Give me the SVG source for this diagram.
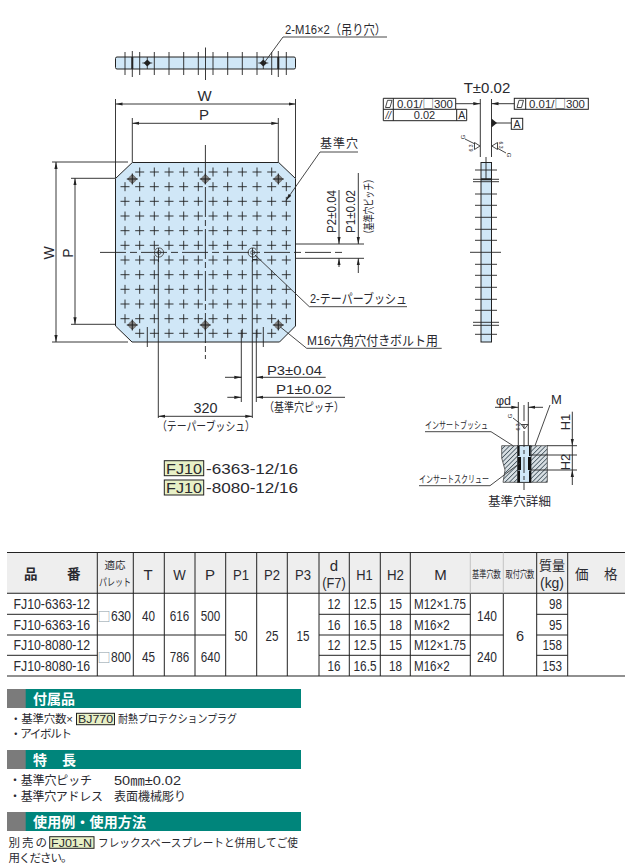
<svg xmlns="http://www.w3.org/2000/svg" width="630" height="868" viewBox="0 0 630 868">
<style>
text{font-family:"Liberation Sans","Noto Sans CJK JP",sans-serif;fill:#2a2a30;font-size:13px}
.jp{font-size:11.5px}
.m{text-anchor:middle}
.e{text-anchor:end}
.h{font-size:15px}
.s{font-size:12px}
.d{font-size:14.5px}
.sq{font-family:"Noto Sans CJK JP",sans-serif;fill:#8a9aa8;font-size:13px}
.q{font-family:"Noto Sans CJK JP",sans-serif}
.w{fill:#fff;font-weight:700;font-size:14px}
.b{font-weight:700}
.ln{fill:none;stroke:#222;stroke-width:.9}
.th{fill:none;stroke:#222;stroke-width:1.1}
.tb{fill:none;stroke:#222;stroke-width:1}
.pl{fill:#d0e7f7;stroke:#222;stroke-width:1}
.gr{fill:none;stroke:#222;stroke-width:.9;stroke-dasharray:9 5.667}
.tag{fill:#e8f0c6;stroke:#222;stroke-width:1}
.lead{fill:none;stroke:#333;stroke-width:.9}
.r{font-size:5px}
</style>
<defs>
<marker id="a" markerUnits="userSpaceOnUse" markerWidth="7" markerHeight="4" refX="7" refY="2" orient="auto-start-reverse"><path d="M0 .4L7 2L0 3.6z" fill="#222"/></marker>
<g id="hole"><path d="M0-5L5 0L0 5L-5 0z" fill="#555"/><circle r="3.6" fill="#808080"/><path d="M-5.5 0H5.5M0-5.5V5.5" stroke="#222" stroke-width="1"/></g>
<g id="mini"><path d="M0-3.6L3.6 0L0 3.6L-3.6 0z" fill="#222"/><path d="M-5 0H5M0-6V6" stroke="#222" stroke-width=".8"/></g>
<g id="bush"><circle r="4.6" fill="#d0e7f7" stroke="#555" stroke-width="1"/><circle r="2" fill="none" stroke="#555" stroke-width=".8"/></g>
<pattern id="hatch" patternUnits="userSpaceOnUse" width="3.2" height="3.2" patternTransform="rotate(45)"><rect width="3.2" height="3.2" fill="#d8dfe3"/><path d="M0 0V3.2" stroke="#3a4a55" stroke-width="1.5"/></pattern>
</defs>

<g id="bar-view">
<rect class="pl" x="115.5" y="57" width="180" height="12" rx="1.5"/>
<path class="ln" d="M125 52V75M139.7 52V75M154.3 52V75M169 52V75M183.7 52V75M198.3 52V75M213 52V75M227.7 52V75M242.3 52V75M257 52V75M271.7 52V75M286.3 52V75M205.5 47.5V80"/>
<path class="ln" d="M132.3 51V77M278.3 51V77"/>
<path d="M132.3 57V69M278.3 57V69" fill="none" stroke="#222" stroke-width="2"/>
<use href="#mini" x="147.3" y="63"/>
<use href="#mini" x="263.3" y="63"/>
</g>

<g id="plate-view">
<path class="pl" d="M132.3 162.5H278.7L295.5 178.5V326L279.5 342H132L115.5 326V178.5z"/>
<path class="gr" d="M135.2 172H276.2M120.5 186.7H291M120.5 201.3H291M120.5 216H291M120.5 230.7H291M120.5 245.3H291M120.5 260H291M120.5 274.7H291M120.5 289.3H291M120.5 304H291M120.5 318.7H291M135.2 333.3H276.2"/>
<path class="gr" d="M125 182.2V323.2M139.7 167.5V338M154.3 167.5V338M169 167.5V338M183.7 167.5V338M198.3 167.5V338M213 167.5V338M227.7 167.5V338M242.3 167.5V338M257 167.5V338M271.7 167.5V338M286.3 182.2V323.2"/>
<use href="#hole" x="132.3" y="179"/>
<use href="#hole" x="205.3" y="179"/>
<use href="#hole" x="278.3" y="179"/>
<use href="#hole" x="132.3" y="325"/>
<use href="#hole" x="205.3" y="325"/>
<use href="#hole" x="278.3" y="325"/>
<use href="#bush" x="159" y="252.5"/>
<use href="#bush" x="252.7" y="252.5"/>
<path class="ln" d="M158.5 248V262M252.5 248V262M252.5 259.5H257"/>
</g>

<g id="side-view">
<rect x="481" y="162.5" width="10.5" height="179.5" fill="#d0e7f7" stroke="#222" stroke-width="1"/>
<path class="ln" d="M475 170H497M473 179.3H499M473 181.7H499M475 194H497M475 205.3H497M475 217.3H497M475 229.3H497M475 240.3H497M470 252.3H501M475 264.3H497M475 275.3H497M475 287.3H497M475 299.3H497M475 310.3H497M473 322.3H499M473 325.3H499M475 334.3H497M486 157V179"/>
<path d="M481 179.3H491.5" stroke="#222" stroke-width="2"/>
<path class="ln" d="M480.3 99V157M491.5 99V157"/>
<text x="487" y="93" class="m" style="font-size:15px">T±0.02</text>
<g id="tol-left">
<path class="tb" d="M383.3 98.3H455.7V109.3H466.7V120.7H383.3zM383.3 109.3H455.7M393.3 98.3V120.7M456.7 109.3V120.7"/>
<path class="lead" d="M385.5 107.5L387.5 100.3H392L390 107.5z"/>
<text x="397" y="108" textLength="56" lengthAdjust="spacingAndGlyphs" style="font-size:11px">0.01/<tspan class="q">□</tspan>300</text>
<text x="388.3" y="118.5" class="m" style="font-size:10px;font-style:italic">//</text>
<text x="424.5" y="119" class="m" style="font-size:11px">0.02</text>
<text x="461.7" y="119" class="m" style="font-size:10.5px">A</text>
</g>
<g id="tol-right">
<rect class="tb" x="514.3" y="98.3" width="74" height="11"/><path class="tb" d="M525.7 98.3V109.3"/>
<path class="lead" d="M517 107.5L519 100.3H523.5L521.5 107.5z"/>
<text x="529" y="108" textLength="56" lengthAdjust="spacingAndGlyphs" style="font-size:11px">0.01/<tspan class="q">□</tspan>300</text>
</g>
<g id="datum-a">
<rect class="tb" x="511.3" y="118.3" width="11.4" height="11"/>
<text x="517" y="128" class="m" style="font-size:10.5px">A</text>
<path class="ln" d="M491.5 123H511.3"/>
<path d="M491.5 118.5L497 123L491.5 127.5z" fill="#222"/>
</g>
<g id="rough-left">
<path class="lead" d="M465 139L475 144M480 146L474.5 142.5V149.5z"/>
<text transform="translate(465 137) rotate(-90)" class="r m" style="font-size:6px">G</text>
<text transform="translate(473 148) rotate(-90)" class="r m">6.3</text>
</g>
<g id="rough-right">
<path class="lead" d="M497 148L506 153M491.8 146L497.5 142.5V149.5z"/>
<text transform="translate(507 155) rotate(90)" class="r m" style="font-size:6px">G</text>
<text transform="translate(499 145) rotate(90)" class="r m">6.3</text>
</g>
</g>

<g id="connectors">
<path class="ln" d="M115.5 99V178M295.5 99V178M132.3 118V162M278.3 118V162"/>
<path class="ln" marker-start="url(#a)" marker-end="url(#a)" d="M115.5 104H295.5"/>
<path class="ln" marker-start="url(#a)" marker-end="url(#a)" d="M132.3 123.3H278.3"/>
<path class="ln" d="M52 162H128M52 342H128M71 178.3H115.5M71 324.3H115.5"/>
<path class="ln" marker-start="url(#a)" marker-end="url(#a)" d="M56 162V342"/>
<path class="ln" marker-start="url(#a)" marker-end="url(#a)" d="M75 178.3V324.3"/>
<path class="ln" stroke-dasharray="30 3 6 3" d="M205.4 145V359"/>
<path class="ln" stroke-dasharray="26 4 7 4" d="M100 252.4H343"/>
<path class="ln" d="M295 244H364M295 258.3H364"/>
<path class="ln" marker-end="url(#a)" d="M339 190V244"/>
<path class="ln" marker-end="url(#a)" d="M339 267V258.3"/>
<path class="ln" marker-end="url(#a)" d="M358.3 173V244"/>
<path class="ln" marker-end="url(#a)" d="M358.3 273V258.3"/>
<path class="ln" d="M158.3 260V418M252.3 260V418M241.3 330V402M256.3 330V402M147.3 327V347M263.3 327V347"/>
<path class="ln" marker-end="url(#a)" d="M237.3 377.3H241.3"/>
<path class="ln" d="M225 377.3H241.3"/>
<path class="ln" marker-end="url(#a)" d="M325.7 377.3H256.3"/>
<path class="ln" marker-end="url(#a)" d="M227.3 397.3H241.3"/>
<path class="ln" marker-end="url(#a)" d="M345 397.3H256.3"/>
<path class="ln" marker-start="url(#a)" marker-end="url(#a)" d="M158.3 416.3H252.3"/>
<path class="lead" d="M264 63L283 37H387"/>
<path class="lead" marker-start="url(#a)" d="M286 200.5L320 152H358"/>
<path class="lead" d="M255 255L309.3 306.7H407"/>
<path class="lead" d="M280 326.7L306.7 348.3H441.7"/>
<path class="ln" marker-end="url(#a)" d="M456 103.7H480.3"/>
<path class="ln" marker-end="url(#a)" d="M514.3 103.7H491.5"/>
</g>

<g id="labels">
<text x="285" y="34" style="font-size:13px" textLength="101" lengthAdjust="spacingAndGlyphs">2-M16×2（吊り穴）</text>
<text x="204.5" y="101" class="m" style="font-size:15px">W</text>
<text x="204" y="120" class="m" style="font-size:15px">P</text>
<text x="54" y="253" class="m" transform="rotate(-90 54 253)" style="font-size:14px">W</text>
<text x="73" y="253" class="m" transform="rotate(-90 73 253)" style="font-size:14px">P</text>
<text x="320" y="148" class="s" textLength="38">基準穴</text>
<text transform="translate(336 233) rotate(-90)" style="font-size:13.5px" textLength="43" lengthAdjust="spacingAndGlyphs">P2±0.04</text>
<text transform="translate(354.5 233) rotate(-90)" style="font-size:13.5px" textLength="43" lengthAdjust="spacingAndGlyphs">P1±0.02</text>
<text transform="translate(373 238) rotate(-90)" class="jp" textLength="63" lengthAdjust="spacingAndGlyphs" style="font-size:11.5px">（基準穴ピッチ）</text>
<text x="310" y="303" style="font-size:13px" textLength="97" lengthAdjust="spacingAndGlyphs">2-テーパーブッシュ</text>
<text x="307" y="345" style="font-size:13px" textLength="131" lengthAdjust="spacingAndGlyphs">M16六角穴付きボルト用</text>
<text x="267" y="375" style="font-size:13.5px" textLength="55" lengthAdjust="spacingAndGlyphs">P3±0.04</text>
<text x="276" y="394" style="font-size:13.5px" textLength="56" lengthAdjust="spacingAndGlyphs">P1±0.02</text>
<text x="264" y="412" class="jp" textLength="80" lengthAdjust="spacingAndGlyphs" style="font-size:12px">（基準穴ピッチ）</text>
<text x="205.5" y="413" class="m" style="font-size:14px" textLength="24" lengthAdjust="spacingAndGlyphs">320</text>
<text x="157" y="431" class="jp" textLength="98" lengthAdjust="spacingAndGlyphs" style="font-size:12px">（テーパーブッシュ）</text>
</g>

<g id="model-codes">
<rect class="tag" x="164.3" y="460.7" width="39.4" height="15"/>
<rect class="tag" x="164.3" y="480" width="39.4" height="15"/>
<text x="166" y="473.5" style="font-size:14.5px" textLength="36" lengthAdjust="spacingAndGlyphs">FJ10</text>
<text x="166" y="492.8" style="font-size:14.5px" textLength="36" lengthAdjust="spacingAndGlyphs">FJ10</text>
<text x="206" y="473.5" style="font-size:14.5px" textLength="92" lengthAdjust="spacingAndGlyphs">-6363-12/16</text>
<text x="206" y="492.8" style="font-size:14.5px" textLength="92" lengthAdjust="spacingAndGlyphs">-8080-12/16</text>
</g>

<g id="hole-detail">
<path d="M501.7 445.7H547.3V482.3H503L505 470L501.7 458z" fill="url(#hatch)" stroke="#444" stroke-width=".8"/>
<rect x="517.5" y="445.7" width="13.5" height="36.6" fill="#d0e7f7" stroke="#222" stroke-width=".8"/>
<rect x="518" y="457" width="3" height="13" fill="#111"/>
<rect x="528" y="457" width="3" height="13" fill="#111"/>
<rect x="518" y="470.5" width="2" height="11.8" fill="#111"/>
<rect x="529" y="470.5" width="2" height="11.8" fill="#111"/>
<rect x="518" y="446" width="1.6" height="10" fill="#111"/>
<rect x="529" y="446" width="1.6" height="10" fill="#111"/>
<path class="ln" stroke-dasharray="16 3 4 3" d="M524 405V490"/>
<path class="ln" d="M518.3 402V445M528.3 402V445M547 445.7H577M530 455H577M530 470H577"/>
<path class="ln" marker-end="url(#a)" d="M495 407.3H518.3"/>
<path class="ln" marker-end="url(#a)" d="M543 407.3H528.3"/>
<path class="ln" marker-end="url(#a)" d="M572.3 411.7V445.7"/>
<path class="ln" d="M572.3 445.7V470"/>
<path class="ln" marker-end="url(#a)" d="M572.3 485V470"/>
<path class="lead" d="M535 445.7L550 405"/>
<path class="lead" d="M425 431.7H491L513 445.7"/>
<path class="lead" d="M419 485.7H490L520 463"/>
<text x="503.5" y="404.5" class="m" style="font-size:12.5px">φd</text>
<text x="556.5" y="404" class="m" style="font-size:13px">M</text>
<text transform="translate(570 422) rotate(-90)" class="m" style="font-size:13px">H1</text>
<text transform="translate(570 462) rotate(-90)" class="m" style="font-size:13px">H2</text>
<text x="425" y="429" class="jp" textLength="63" lengthAdjust="spacingAndGlyphs" style="font-size:10px">インサートブッシュ</text>
<text x="419" y="483" class="jp" textLength="70" lengthAdjust="spacingAndGlyphs" style="font-size:10px">インサートスクリュー</text>
<text x="488" y="506" class="jp" textLength="63" style="font-size:12.5px">基準穴詳細</text>
<path class="lead" d="M513 418L522 425M524.5 429L521.5 424.5H528z"/>
<text transform="translate(512 416) rotate(-90)" class="r m" style="font-size:6px">G</text>
<text transform="translate(519.5 427) rotate(-90)" class="r m">6.3</text>
</g>

<g id="spec-table">
<rect x="7" y="552.5" width="618" height="41" fill="#eeeeee"/>
<path class="th" d="M7 552.5H625M7 593.3H625M7 676H625"/>
<path class="tb" d="M97.3 552.5V676M133.3 552.5V676M164.3 552.5V676M195 552.5V676M225.7 552.5V676M256.7 552.5V676M287.3 552.5V676M319 552.5V676M349.3 552.5V676M380.3 552.5V676M410.3 552.5V676M470.3 593.3V676M503.3 593.3V676M536.7 552.5V676M567.7 552.5V676"/>
<path class="tb" d="M470.3 552.5V593.3M503.3 552.5V593.3" style="stroke:#c4c4c4"/>
<path class="tb" d="M7 614.3H97.3M7 635H225.7M7 655.3H97.3M319 614.3H470.3M319 635H503.3M319 655.3H470.3M536.7 614.3H567.7M536.7 635H567.7M536.7 655.3H567.7"/>
<g class="hd">
<text x="24" y="579" class="b" style="font-size:13.5px">品</text>
<text x="67" y="579" class="b" style="font-size:13.5px">番</text>
<text x="115" y="569" class="m" style="font-size:10.5px">適応</text>
<text transform="translate(115 585.5) scale(.76 1)" class="m" style="font-size:10.5px">パレット</text>
<text x="148" y="580" class="m h">T</text>
<text x="179.5" y="580" class="m h" textLength="12.5" lengthAdjust="spacingAndGlyphs">W</text>
<text x="210" y="580" class="m h">P</text>
<text x="241" y="580" class="m h" textLength="16" lengthAdjust="spacingAndGlyphs">P1</text>
<text x="272" y="580" class="m h" textLength="16" lengthAdjust="spacingAndGlyphs">P2</text>
<text x="303" y="580" class="m h" textLength="16" lengthAdjust="spacingAndGlyphs">P3</text>
<text x="334" y="571" class="m h">d</text>
<text x="334" y="587.5" class="m h" textLength="23.5" lengthAdjust="spacingAndGlyphs">(F7)</text>
<text x="364.5" y="580" class="m h" textLength="16.5" lengthAdjust="spacingAndGlyphs">H1</text>
<text x="395.5" y="580" class="m h" textLength="17" lengthAdjust="spacingAndGlyphs">H2</text>
<text x="440.5" y="580" class="m h">M</text>
<text transform="translate(472 578) scale(.72 1)" style="font-size:10px">基準穴数</text>
<text transform="translate(505.5 578) scale(.72 1)" style="font-size:10px">取付穴数</text>
<text x="552" y="569.5" class="m" style="font-size:13px">質量</text>
<text x="552" y="587.5" class="m h" textLength="24" lengthAdjust="spacingAndGlyphs">(kg)</text>
<text x="575" y="579" style="font-size:13.5px">価</text>
<text x="604" y="579" style="font-size:13.5px">格</text>
</g>
<g class="bd">
<text transform="translate(13.5 609) scale(.85 1)" class="d">FJ10-6363-12</text>
<text transform="translate(13.5 630) scale(.85 1)" class="d">FJ10-6363-16</text>
<text transform="translate(13.5 650) scale(.85 1)" class="d">FJ10-8080-12</text>
<text transform="translate(13.5 671) scale(.85 1)" class="d">FJ10-8080-16</text>
<text x="97.5" y="621" class="sq">□</text><text transform="translate(111 620.5) scale(.83 1)" class="d">630</text>
<text x="97.5" y="662" class="sq">□</text><text transform="translate(111 661.5) scale(.83 1)" class="d">800</text>
<text x="148.5" y="620.5" class="m d" textLength="13" lengthAdjust="spacingAndGlyphs">40</text><text x="148.5" y="661.5" class="m d" textLength="13" lengthAdjust="spacingAndGlyphs">45</text>
<text x="179.5" y="620.5" class="m d" textLength="19.5" lengthAdjust="spacingAndGlyphs">616</text><text x="179.5" y="661.5" class="m d" textLength="19.5" lengthAdjust="spacingAndGlyphs">786</text>
<text x="210.5" y="620.5" class="m d" textLength="19.5" lengthAdjust="spacingAndGlyphs">500</text><text x="210.5" y="661.5" class="m d" textLength="19.5" lengthAdjust="spacingAndGlyphs">640</text>
<text x="241" y="641" class="m d" textLength="13" lengthAdjust="spacingAndGlyphs">50</text>
<text x="272" y="641" class="m d" textLength="13" lengthAdjust="spacingAndGlyphs">25</text>
<text x="303" y="641" class="m d" textLength="13" lengthAdjust="spacingAndGlyphs">15</text>
<text x="334" y="609" class="m d" textLength="13" lengthAdjust="spacingAndGlyphs">12</text><text x="334" y="630" class="m d" textLength="13" lengthAdjust="spacingAndGlyphs">16</text><text x="334" y="650" class="m d" textLength="13" lengthAdjust="spacingAndGlyphs">12</text><text x="334" y="671" class="m d" textLength="13" lengthAdjust="spacingAndGlyphs">16</text>
<text x="365" y="609" class="m d" textLength="23" lengthAdjust="spacingAndGlyphs">12.5</text><text x="365" y="630" class="m d" textLength="23" lengthAdjust="spacingAndGlyphs">16.5</text><text x="365" y="650" class="m d" textLength="23" lengthAdjust="spacingAndGlyphs">12.5</text><text x="365" y="671" class="m d" textLength="23" lengthAdjust="spacingAndGlyphs">16.5</text>
<text x="395.5" y="609" class="m d" textLength="13" lengthAdjust="spacingAndGlyphs">15</text><text x="395.5" y="630" class="m d" textLength="13" lengthAdjust="spacingAndGlyphs">18</text><text x="395.5" y="650" class="m d" textLength="13" lengthAdjust="spacingAndGlyphs">15</text><text x="395.5" y="671" class="m d" textLength="13" lengthAdjust="spacingAndGlyphs">18</text>
<text transform="translate(414 609) scale(.8 1)" class="d">M12×1.75</text>
<text transform="translate(414 630) scale(.8 1)" class="d">M16×2</text>
<text transform="translate(414 650) scale(.8 1)" class="d">M12×1.75</text>
<text transform="translate(414 671) scale(.8 1)" class="d">M16×2</text>
<text x="487" y="620.5" class="m d" textLength="20" lengthAdjust="spacingAndGlyphs">140</text><text x="487" y="661.5" class="m d" textLength="20" lengthAdjust="spacingAndGlyphs">240</text>
<text x="520" y="641" class="m d">6</text>
<text x="562" y="609" class="e d" textLength="13" lengthAdjust="spacingAndGlyphs">98</text><text x="562" y="630" class="e d" textLength="13" lengthAdjust="spacingAndGlyphs">95</text><text x="562" y="650" class="e d" textLength="19.5" lengthAdjust="spacingAndGlyphs">158</text><text x="562" y="671" class="e d" textLength="19.5" lengthAdjust="spacingAndGlyphs">153</text>
</g>
</g>

<g id="section-accessories">
<rect x="7" y="689" width="294" height="19" fill="#00857b"/><rect x="7" y="689" width="18.7" height="19" fill="#7b7b7b"/>
<text x="33" y="704" class="w">付属品</text>
<text x="10" y="723" class="jp" textLength="63">・基準穴数×</text>
<rect class="tag" x="76.5" y="713.3" width="38" height="11.4"/>
<text x="78" y="723" class="jp" textLength="35" lengthAdjust="spacingAndGlyphs">BJ770</text>
<text x="118" y="723" class="jp" textLength="119" lengthAdjust="spacingAndGlyphs">耐熱プロテクションプラグ</text>
<text x="10" y="738" class="jp" textLength="62">・アイボルト</text>
</g>
<g id="section-features">
<rect x="7" y="750" width="294" height="19" fill="#00857b"/><rect x="7" y="750" width="18.7" height="19" fill="#7b7b7b"/>
<text x="33" y="765" class="w" textLength="43">特　長</text>
<text x="9" y="785" class="s" textLength="83">・基準穴ピッチ</text>
<text x="114" y="785" style="font-size:13px" textLength="67" lengthAdjust="spacingAndGlyphs">50㎜±0.02</text>
<text x="9" y="801" class="s" textLength="94">・基準穴アドレス</text>
<text x="114" y="801" class="s" textLength="72">表面機械彫り</text>
</g>
<g id="section-usage">
<rect x="7" y="812" width="294" height="19" fill="#00857b"/><rect x="7" y="812" width="18.7" height="19" fill="#7b7b7b"/>
<text x="33" y="827" class="w" textLength="113">使用例・使用方法</text>
<text x="8.5" y="847" class="jp" textLength="38.5">別売の</text>
<rect class="tag" x="49.7" y="836.7" width="44.3" height="11.6"/>
<text x="51" y="846.5" class="jp" textLength="41" lengthAdjust="spacingAndGlyphs">FJ01-N</text>
<text x="98" y="847" class="jp" textLength="200" lengthAdjust="spacingAndGlyphs">フレックスベースプレートと併用してご使</text>
<text x="8.5" y="861.5" class="jp" textLength="64">用ください。</text>
</g>
</svg>
